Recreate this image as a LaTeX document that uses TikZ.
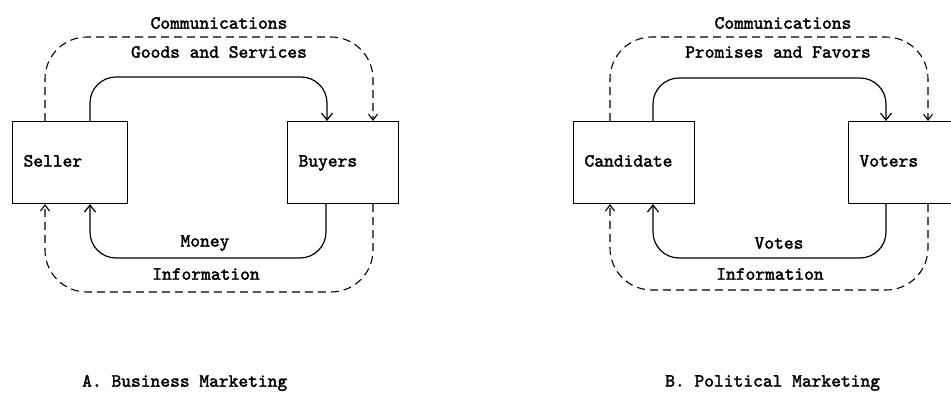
\documentclass[tikz,border=0pt]{standalone}
\usepackage{fontspec}
\newfontfamily\typer{lmmono10-regular.otf}[FakeBold=2]
\usetikzlibrary{arrows.meta}

\tikzset{
  typeface/.style={font=\typer\fontsize{18.6}{21}\selectfont},
  type/.style={typeface, inner sep=0pt},
  box/.style={draw, typeface, line width=1.1pt, minimum height=82pt, inner xsep=11pt,
    inner ysep=0pt, align=left, anchor=north west, text width=#1,
    text height=11pt, text depth=3pt},
  flow/.style={line width=1.2pt, rounded corners=26pt,
    -{Straight Barb[length=7pt,width=11pt,line width=1.2pt]}},
  talk/.style={line width=1.1pt, dash pattern=on 8pt off 5pt, rounded corners=42pt,
    -{Straight Barb[length=6pt,width=9pt,line width=1.1pt]}},
}

\begin{document}
\begin{tikzpicture}[x=1pt,y=-1pt]
  \useasboundingbox[fill=white] (0,0) rectangle (951,394);

  % ---- A. Business marketing ----
  \node[box=93pt] (seller) at (12,121) {Seller};
  \node[box=89pt] (buyers) at (287,121) {Buyers};

  \draw[flow] (seller.north -| 90,0) -- (90,77) -- (327,77) -- (buyers.north -| 327,0);
  \draw[flow] (buyers.south -| 326,0) -- (326,258) -- (90,258) -- (seller.south -| 90,0);
  \draw[talk] (seller.north -| 45,0) -- (45,37) -- (373,37) -- (buyers.north -| 373,0);
  \draw[talk] (buyers.south -| 373,0) -- (373,292) -- (45,292) -- (seller.south -| 45,0);

  \node[type] (commA) at (219,23) {Communications};
  \node[type] (goods) at (219,52) {Goods and Services};
  \node[type] (money) at (205,243) {Money};
  \node[type] (infoA) at (206,274) {Information};
  \node[type, anchor=west] (capA) at (82,383) {A. Business Marketing};

  % ---- B. Political marketing ----
  \node[box=99pt] (cand) at (573,121) {Candidate};
  \node[box=100pt] (voters) at (848,121) {Voters};

  \draw[flow] (cand.north -| 653,0) -- (653,78) -- (886,78) -- (voters.north -| 886,0);
  \draw[flow] (voters.south -| 886,0) -- (886,258) -- (653,258) -- (cand.south -| 653,0);
  \draw[talk] (cand.north -| 610,0) -- (610,37) -- (928,37) -- (voters.north -| 928,0);
  \draw[talk] (voters.south -| 928,0) -- (928,290) -- (610,290) -- (cand.south -| 610,0);

  \node[type] (commB) at (783,23) {Communications};
  \node[type] (promises) at (778,52) {Promises and Favors};
  \node[type] (votes) at (779,243) {Votes};
  \node[type] (infoB) at (770,274) {Information};
  \node[type, anchor=west] (capB) at (665,383) {B. Political Marketing};
\end{tikzpicture}
\end{document}
